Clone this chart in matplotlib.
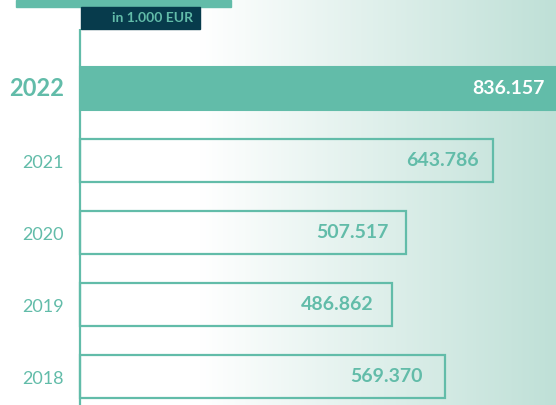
import numpy as np
import matplotlib
matplotlib.use("Agg")
import matplotlib.pyplot as plt
from matplotlib.patches import Rectangle

plt.rcParams['font.family'] = ['Lato', 'DejaVu Sans']

# values in 1.000 EUR
years = ["2022", "2021", "2020", "2019", "2018"]
values = [836.157, 643.786, 507.517, 486.862, 569.370]
value_labels = ["836.157", "643.786", "507.517", "486.862", "569.370"]
unit_label = "in 1.000 EUR"

# layout (pixels)
W, H = 556, 405
x0_px = 80            # bar baseline
px_per_unit = 1 / 1.558
row_px = 72.1
first_row_px = 88.5
label_inset_px = [11, 14, 17, 19, 23]

teal = "#62bca9"
navy = "#073b4c"
bg_right = "#bfe0d7"

fig = plt.figure(figsize=(W / 100, H / 100), dpi=100)
ax = fig.add_axes([0, 0, 1, 1])

k = 1 / px_per_unit
xmin, xmax = -x0_px * k, (W - x0_px) * k
ymin = -first_row_px / row_px
ymax = (H - first_row_px) / row_px
ax.set_xlim(xmin, xmax)
ax.set_ylim(ymax, ymin)
ax.axis("off")

# horizontal background gradient
ramp = np.clip((np.arange(W) - 200) / (W - 200), 0, 1)
c0 = np.array([1.0, 1.0, 1.0])
c1 = np.array(matplotlib.colors.to_rgb(bg_right))
img = c0[None, :] + ramp[:, None] * (c1 - c0)[None, :]
ax.imshow(img[None, :, :], extent=[xmin, xmax, ymax, ymin], aspect="auto", zorder=0)

pos = np.arange(len(years))
bh = 43 / row_px

# highlighted bar
ax.barh(pos[0], values[0], height=bh, color=teal, edgecolor=teal, linewidth=1.5, zorder=2)
# outlined bars
ax.barh(pos[1:], values[1:], height=bh, fill=False, edgecolor=teal, linewidth=1.6, zorder=2)

# baseline
ax.plot([0, 0], [(29 - first_row_px) / row_px, ymax], color=teal, lw=1.6, zorder=3,
        solid_capstyle="butt")

for i, (yr, v, lab) in enumerate(zip(years, values, value_labels)):
    end = min(v, xmax)
    xt = end - label_inset_px[i] * k
    if i == 0:
        ax.text(-16 * k, i, yr, ha="right", va="center", color=teal,
                fontsize=17, fontweight="bold", zorder=4)
        ax.text(xt, i, lab, ha="right", va="center", color="white",
                fontsize=14, fontweight="bold", zorder=4)
    else:
        ax.text(-16 * k, i + 0.03, yr, ha="right", va="center", color=teal,
                fontsize=13, zorder=4)
        ax.text(xt, i, lab, ha="right", va="center", color=teal,
                fontsize=14, fontweight="bold", zorder=4)

# header elements (title bar remnant and unit box)
fig.patches.append(Rectangle((16 / W, 1 - 7 / H), 215 / W, 7 / H,
                             transform=fig.transFigure, color=teal, zorder=5))
fig.patches.append(Rectangle((81 / W, 1 - 29 / H), 119 / W, 22 / H,
                             transform=fig.transFigure, color=navy, zorder=5))
fig.text(193 / W, 1 - 18 / H, unit_label, ha="right", va="center", color=teal,
         fontsize=10, fontweight="bold", zorder=6)

fig.savefig("out.png", dpi=100)
